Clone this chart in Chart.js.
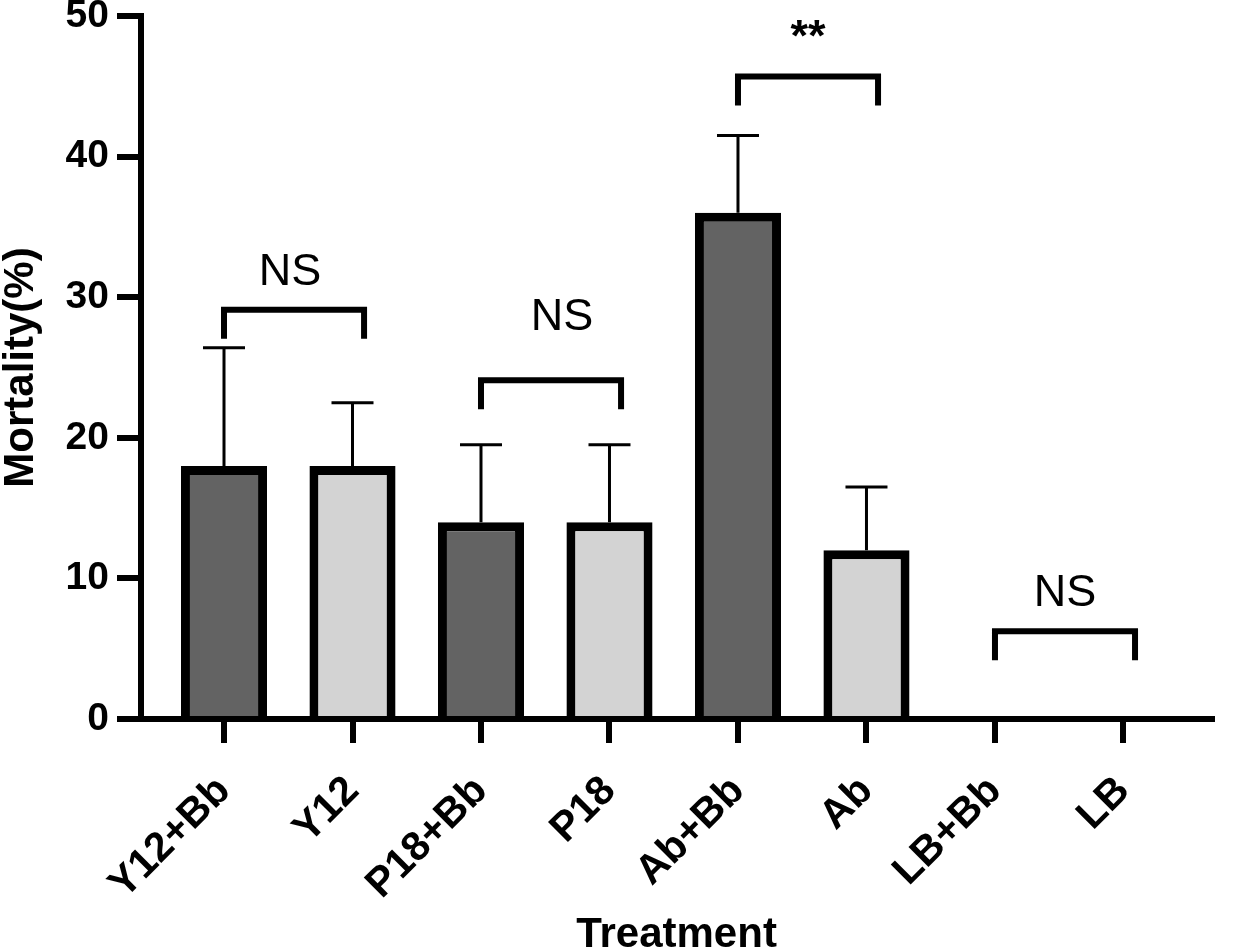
<!DOCTYPE html>
<html lang="en">
  <head>
    <meta charset="UTF-8">
    <title>Mortality by treatment</title>
    <script src="https://cdn.jsdelivr.net/npm/chart.js"></script>
    <style>
      html, body { margin: 0; padding: 0; background: #fff; }
      #wrap { width: 1244px; height: 952px; }
    </style>
  </head>

  <body>
    <div id="wrap">
      <canvas id="grafico"></canvas>
    </div>

    <script>
      // data
      const categories = ['Y12+Bb', 'Y12', 'P18+Bb', 'P18', 'Ab+Bb', 'Ab', 'LB+Bb', 'LB']
      const mortality = [18, 18, 14, 14, 36, 12, 0, 0]
      const errorUp = [8.4, 4.5, 5.5, 5.5, 5.5, 4.5, 0, 0]
      const yTicks = [0, 10, 20, 30, 40, 50]

      // significance brackets
      const bracketPairs = [[0, 1], [2, 3], [4, 5], [6, 7]]
      const bracketLevels = [29.1, 24.1, 45.7, 6.25]
      const bracketLabels = ['NS', 'NS', '**', 'NS']

      // styles
      const barColors = ['#636363', '#d3d3d3', '#636363', '#d3d3d3', '#636363', '#d3d3d3', '#636363', '#d3d3d3']
      const labelShift = [[-4, 0], [11, -25], [0, 0], [0, 0]]
      const fam = '"Liberation Sans", Arial, sans-serif'

      const errorBars = {
        id: 'errorBars',
        afterDatasetsDraw(chart) {
          const ctx = chart.ctx
          const xs = chart.scales.x, ys = chart.scales.y
          ctx.save()
          ctx.strokeStyle = '#000'
          ctx.lineWidth = 3
          mortality.forEach((v, i) => {
            if (!errorUp[i]) return
            const x = xs.getPixelForValue(i)
            const y0 = ys.getPixelForValue(v)
            const y1 = ys.getPixelForValue(v + errorUp[i])
            ctx.beginPath()
            ctx.moveTo(x, y0)
            ctx.lineTo(x, y1)
            ctx.moveTo(x - 21, y1)
            ctx.lineTo(x + 21, y1)
            ctx.stroke()
          })
          ctx.restore()
        }
      }

      const brackets = {
        id: 'brackets',
        afterDatasetsDraw(chart) {
          const ctx = chart.ctx
          const xs = chart.scales.x, ys = chart.scales.y
          ctx.save()
          ctx.strokeStyle = '#000'
          ctx.fillStyle = '#000'
          ctx.lineWidth = 6
          ctx.lineJoin = 'miter'
          ctx.lineCap = 'butt'
          bracketPairs.forEach((p, k) => {
            const xa = xs.getPixelForValue(p[0])
            const xb = xs.getPixelForValue(p[1] + 0.09)
            const yt = ys.getPixelForValue(bracketLevels[k])
            const yb = yt + 29
            ctx.beginPath()
            ctx.moveTo(xa, yb)
            ctx.lineTo(xa, yt)
            ctx.lineTo(xb, yt)
            ctx.lineTo(xb, yb)
            ctx.stroke()

            const lab = bracketLabels[k]
            ctx.font = (lab === '**' ? 'bold ' : '') + '45px ' + fam
            ctx.textAlign = 'center'
            ctx.textBaseline = 'alphabetic'
            ctx.fillText(lab, (xa + xb) / 2 + labelShift[k][0], yt - 25 + labelShift[k][1])
          })
          ctx.restore()
        }
      }

      const ctx = document.getElementById('grafico')

      new Chart(ctx, {
        type: 'bar',
        data: {
          datasets: [{
            data: mortality.map((v, i) => ({ x: i, y: v })),
            backgroundColor: barColors,
            borderColor: '#000',
            borderWidth: 9,
            borderSkipped: 'start',
            barPercentage: 0.67,
            categoryPercentage: 1
          }]
        },
        options: {
          responsive: true,
          maintainAspectRatio: false,
          animation: false,
          layout: { padding: { top: 16, right: 32, left: 0, bottom: 0 } },
          plugins: {
            legend: { display: false },
            tooltip: { enabled: false }
          },
          scales: {
            x: {
              type: 'linear',
              min: -0.646,
              max: 7.689,
              offset: false,
              afterBuildTicks: (scale) => {
                scale.ticks = categories.map((c, i) => ({ value: i }))
              },
              afterFit: (scale) => { scale.height = 233 },
              border: { display: true, color: '#000', width: 6 },
              grid: {
                offset: false,
                drawOnChartArea: false,
                drawTicks: true,
                tickLength: 24,
                lineWidth: 6,
                color: '#000'
              },
              ticks: {
                autoSkip: false,
                minRotation: 45,
                maxRotation: 45,
                padding: 24,
                color: '#000',
                font: { family: fam, size: 41, weight: 'bold' },
                callback: (v) => categories[v]
              },
              title: {
                display: true,
                text: 'Treatment',
                color: '#000',
                padding: { top: 0, bottom: 0 },
                font: { family: fam, size: 42, weight: 'bold', lineHeight: 0.8 }
              }
            },
            y: {
              min: 0,
              max: 50,
              afterBuildTicks: (scale) => {
                scale.ticks = yTicks.map(v => ({ value: v }))
              },
              afterFit: (scale) => {
                scale.width = 141
                scale.paddingTop = 0
                scale.paddingBottom = 0
              },
              border: { display: true, color: '#000', width: 6 },
              grid: {
                drawOnChartArea: false,
                drawTicks: true,
                tickLength: 24,
                lineWidth: 6,
                color: '#000'
              },
              ticks: {
                padding: 8,
                color: '#000',
                font: { family: fam, size: 39, weight: 'bold' }
              },
              title: {
                display: true,
                text: 'Mortality(%)',
                color: '#000',
                padding: { top: 0, bottom: 0 },
                font: { family: fam, size: 42, weight: 'bold', lineHeight: 1 }
              }
            }
          }
        },
        plugins: [errorBars, brackets]
      })
    </script>
  </body>
</html>
